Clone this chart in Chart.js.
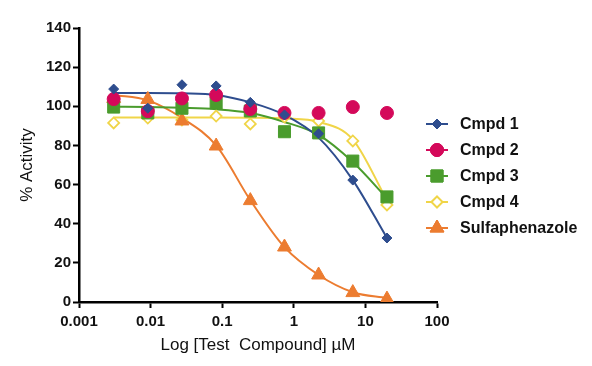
<!DOCTYPE html>
<html>
<head>
<meta charset="utf-8">
<script src="https://cdn.jsdelivr.net/npm/chart.js@4"></script>
<style>
  html, body { margin: 0; padding: 0; background: #fff; }
  #wrap { width: 592px; height: 366px; }
</style>
</head>
<body>
<div id="wrap"><canvas id="myChart" width="592" height="366"></canvas></div>
<script>
// concentrations (uM), 3-fold dilution
const conc = [0.00305, 0.00914, 0.0274, 0.0823, 0.247, 0.741, 2.22, 6.67, 20];
const xTicks = [0.001, 0.01, 0.1, 1, 10, 100];
const yTicks = [0, 20, 40, 60, 80, 100, 120, 140];

// measured points
const cmpd1 = [108.8, 99, 111, 110.4, 102, 95.6, 86, 62.3, 32.7];
const cmpd2 = [103.7, 97.5, 104, 105.8, 98.6, 96.6, 96.6, 99.6, 96.6];
const cmpd3 = [99.6, 96.6, 99, 101.7, 97.6, 87, 86.4, 72, 53.7];
const cmpd4 = [91.5, 94, 93, 95, 91, 94.5, 92.5, 82.3, 49.6];
const sulfa = [104, 103.5, 92.5, 79.7, 51.8, 28.1, 13.8, 4.8, 1.5];

// fitted curves, same x positions
const fit1 = [106.8, 106.8, 106.6, 105.8, 102, 95.6, 84, 62.3, 32.7];
const fit3 = [99.8, 99.6, 99.2, 98.5, 96.6, 92, 85.4, 71.5, 53];
const fit4 = [94.3, 94.3, 94.3, 94.3, 94.2, 93.8, 92, 83, 52];
const fitS = [105.8, 103, 94, 80, 52, 28, 13.8, 5, 2];

const pts = arr => arr.map((v, i) => ({ x: conc[i], y: v }));

const BLUE = '#2E4D8E', MAG = '#D4095A', GREEN = '#4A9C2D', YEL = '#F0D548', ORA = '#EC7C30';
const FONT = 'Liberation Sans, Arial, sans-serif';

const series = [
  { label: 'Cmpd 1', color: BLUE, style: 'rectRot', r: 5, fill: BLUE, data: cmpd1, fit: fit1 },
  { label: 'Cmpd 2', color: MAG, style: 'circle', r: 6.5, fill: MAG, data: cmpd2, fit: null },
  { label: 'Cmpd 3', color: GREEN, style: 'rect', r: 8.5, fill: GREEN, data: cmpd3, fit: fit3 },
  { label: 'Cmpd 4', color: YEL, style: 'rectRot', r: 5.5, fill: '#fff', data: cmpd4, fit: fit4 },
  { label: 'Sulfaphenazole', color: ORA, style: 'triangle', r: 8, fill: ORA, data: sulfa, fit: fitS }
];
// lower order = drawn on top
const markerOrder = { 'Cmpd 1': 1, 'Cmpd 2': 2, 'Cmpd 3': 3, 'Sulfaphenazole': 4, 'Cmpd 4': 5 };

const datasets = [];
series.forEach(s => {
  if (s.fit) {
    datasets.push({
      type: 'line', label: s.label + ' fit', data: pts(s.fit),
      borderColor: s.color, borderWidth: 2, pointRadius: 0,
      cubicInterpolationMode: 'monotone', fill: false, order: 10
    });
  }
  datasets.push({
    type: 'scatter', label: s.label, data: pts(s.data), showLine: false,
    pointStyle: s.style, pointRadius: s.r, pointHoverRadius: s.r,
    pointBackgroundColor: s.fill, pointBorderColor: s.color,
    pointBorderWidth: s.fill === '#fff' ? 1.8 : 1, order: markerOrder[s.label]
  });
});

// legend drawn as line + marker, like the reference
const legendPlugin = {
  id: 'sideLegend',
  afterDraw(chart) {
    const c = chart.ctx;
    c.save();
    series.forEach((s, i) => {
      const y = 124 + i * 26;
      c.strokeStyle = s.color;
      c.lineWidth = 2;
      c.beginPath(); c.moveTo(426, y); c.lineTo(448, y); c.stroke();
      c.fillStyle = s.fill;
      c.lineWidth = s.fill === '#fff' ? 1.8 : 1;
      Chart.helpers.drawPoint(c, { pointStyle: s.style, radius: s.r, borderWidth: 1 }, 437, y);
      c.fill(); c.stroke();
      c.fillStyle = '#111';
      c.font = 'bold 16px ' + FONT;
      c.textBaseline = 'middle';
      c.fillText(s.label, 460, y + 1);
    });
    c.restore();
  }
};

new Chart(document.getElementById('myChart').getContext('2d'), {
  data: { datasets },
  plugins: [legendPlugin],
  options: {
    responsive: false,
    animation: false,
    layout: { padding: { left: 0, right: 155, top: 28, bottom: 0 } },
    plugins: { legend: { display: false }, tooltip: { enabled: false } },
    scales: {
      x: {
        type: 'logarithmic', min: 0.001, max: 100,
        afterBuildTicks(scale) { scale.ticks = xTicks.map(v => ({ value: v })); },
        afterFit(scale) { scale.height = 64; },
        grid: { drawOnChartArea: false, drawTicks: true, tickLength: 6, tickWidth: 2, tickColor: '#000' },
        border: { display: true, color: '#000', width: 2.5 },
        ticks: {
          color: '#111', font: { family: FONT, size: 15, weight: 'bold' }, padding: 5,
          maxRotation: 0, autoSkip: false,
          callback(value) { return String(value); }
        },
        title: {
          display: true, text: 'Log [Test  Compound] \u00b5M', color: '#111',
          font: { family: FONT, size: 17 }, padding: { top: 2, bottom: 10 }
        }
      },
      y: {
        min: 0, max: 140,
        afterBuildTicks(scale) { scale.ticks = yTicks.map(v => ({ value: v })); },
        afterFit(scale) { scale.width = 79; },
        grid: { drawOnChartArea: false, drawTicks: true, tickLength: 6, tickWidth: 2, tickColor: '#000' },
        border: { display: true, color: '#000', width: 2.5 },
        ticks: { color: '#111', font: { family: FONT, size: 15, weight: 'bold' }, padding: 2 },
        title: {
          display: true, text: '% Activity', color: '#111',
          font: { family: FONT, size: 17 }, padding: { top: 17, bottom: 4 }
        }
      }
    }
  }
});
</script>
</body>
</html>
